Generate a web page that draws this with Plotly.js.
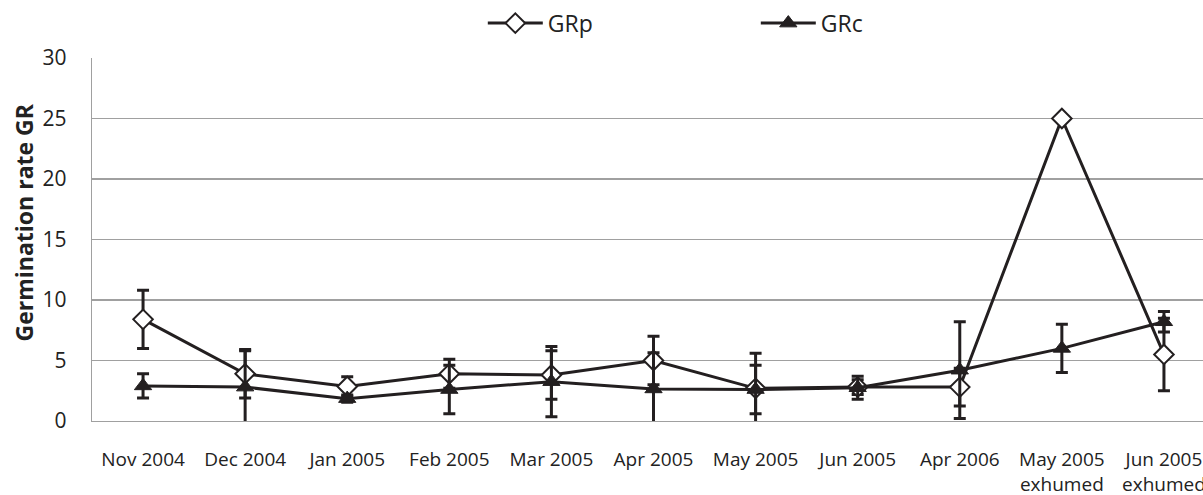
<!DOCTYPE html>
<html>
<head>
<meta charset="utf-8">
<script src="https://cdn.plot.ly/plotly-3.0.1.min.js"></script>
<style>
html, body { margin:0; padding:0; overflow:hidden; background:#fff; }
#chart { width:1215px; height:495px; }
</style>
</head>
<body>
<div id="chart"></div>
<script>
const categories = ["Nov 2004","Dec 2004","Jan 2005","Feb 2005","Mar 2005","Apr 2005","May 2005","Jun 2005","Apr 2006","May 2005<br>exhumed","Jun 2005<br>exhumed"];
const grp = [8.4, 3.9, 2.85, 3.9, 3.8, 5.0, 2.7, 2.8, 2.8, 25.0, 5.5];
const grpErr = [2.4, 2.0, 0.8, 1.2, 2.0, 2.0, 2.9, 0.6, 1.55, 0.2, 3.0];
const grc = [2.9, 2.8, 1.85, 2.6, 3.25, 2.65, 2.6, 2.75, 4.2, 6.0, 8.2];
const grcErr = [1.0, 3.0, 0.3, 2.0, 2.9, 3.0, 2.0, 0.95, 4.0, 2.0, 0.85];
const yTicks = [0, 5, 10, 15, 20, 25, 30];

const ink = "#231f20";
const font = "Open Sans, sans-serif";

const traces = [
  {
    name: "GRp", type: "scatter", mode: "lines+markers",
    x: categories, y: grp,
    line: {color: ink, width: 3},
    marker: {symbol: "diamond", size: 15, color: "#ffffff", line: {color: ink, width: 2}},
    error_y: {type: "data", array: grpErr, visible: true, color: ink, thickness: 3, width: 6}
  },
  {
    name: "GRc", type: "scatter", mode: "lines+markers",
    x: categories, y: grc,
    line: {color: ink, width: 3},
    marker: {symbol: "triangle-up", size: 15, color: ink, line: {color: ink, width: 1}},
    error_y: {type: "data", array: grcErr, visible: true, color: ink, thickness: 3, width: 6}
  }
];

const layout = {
  width: 1215, height: 495,
  margin: {l: 92, r: 0, t: 58, b: 74},
  paper_bgcolor: "#ffffff", plot_bgcolor: "#ffffff",
  font: {family: font, size: 19, color: "#222222"},
  showlegend: true,
  legend: {
    orientation: "h", x: 0.348, xanchor: "left", y: 1.096, yanchor: "middle",
    font: {family: font, size: 23, color: "#222222"},
    itemwidth: 55, entrywidth: 203, bgcolor: "rgba(0,0,0,0)"
  },
  xaxis: {
    type: "category", range: [-0.5, 10.5],
    showgrid: false, zeroline: false,
    showline: true, linecolor: "#a0a0a0", linewidth: 1.3,
    ticks: "", ticklabelstandoff: 21,
    tickfont: {family: font, size: 19, color: "#222222"},
    fixedrange: true
  },
  yaxis: {
    range: [0, 30], tickvals: yTicks, ticktext: yTicks.map(String),
    showgrid: true, gridcolor: "#a0a0a0", gridwidth: 1.3,
    zeroline: false, showline: true, linecolor: "#a0a0a0", linewidth: 1.3,
    ticks: "", ticklabelstandoff: 20,
    tickfont: {family: font, size: 21, color: "#222222"},
    fixedrange: true
  },
  annotations: [{
    text: "<b>Germination rate GR</b>", textangle: -90,
    xref: "paper", yref: "paper", x: 0, xshift: -68, y: 0.547,
    xanchor: "center", yanchor: "middle", showarrow: false,
    font: {family: font, size: 23, color: "#222222"}
  }]
};

Plotly.newPlot("chart", traces, layout, {displayModeBar: false, staticPlot: true});
</script>
</body>
</html>
